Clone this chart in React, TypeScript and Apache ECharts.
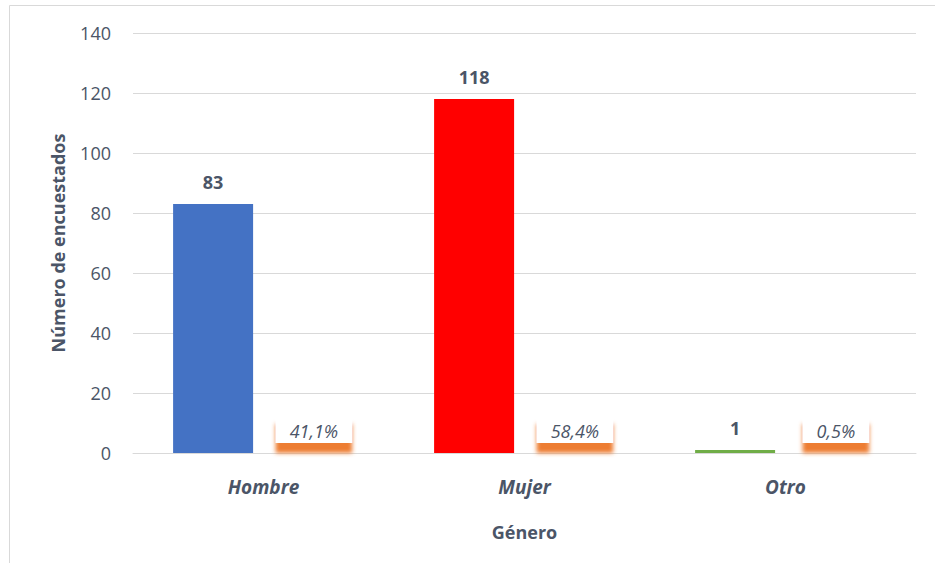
import React, { useEffect, useRef } from "react";
import * as echarts from "echarts";

const categories = ["Hombre", "Mujer", "Otro"];
const counts = [83, 118, 1];
const percents = ["41,1%", "58,4%", "0,5%"];
const barColors = ["#4472C4", "#FF0000", "#70AD47"];
const yTicks = { min: 0, max: 140, interval: 20 };

const textColor = "#4b5567";
const font = "'Open Sans', 'Noto Sans', sans-serif";

export default function App() {
  const ref = useRef<HTMLDivElement>(null);
  useEffect(() => {
    if (!ref.current) return;
    const chart = echarts.init(ref.current, null, { renderer: "svg" });
    chart.setOption({
      animation: false,
      backgroundColor: "#ffffff",
      textStyle: { fontFamily: font },
      graphic: [
        {
          type: "rect",
          shape: { x: 9.5, y: 5.5, width: 960, height: 600 },
          style: { fill: "none", stroke: "#d9d9d9", lineWidth: 1 },
          silent: true,
          z: -10,
        },
      ],
      grid: { left: 133, right: 19, top: 33, bottom: 110 },
      xAxis: {
        type: "category",
        data: categories,
        name: "Género",
        nameLocation: "middle",
        nameGap: 70,
        nameTextStyle: { color: textColor, fontWeight: "bold", fontSize: 18, fontFamily: font },
        axisLine: { lineStyle: { color: "#d9d9d9" } },
        axisTick: { show: false },
        axisLabel: {
          color: textColor,
          fontStyle: "italic",
          fontWeight: "bold",
          fontSize: 19,
          margin: 24,
          fontFamily: font,
        },
      },
      yAxis: {
        type: "value",
        min: yTicks.min,
        max: yTicks.max,
        interval: yTicks.interval,
        name: "Número de encuestados",
        nameLocation: "middle",
        nameGap: 66,
        nameTextStyle: { color: textColor, fontWeight: "bold", fontSize: 18, fontFamily: font },
        axisLine: { show: false },
        axisTick: { show: false },
        splitLine: { lineStyle: { color: "#d9d9d9" } },
        axisLabel: { color: textColor, fontSize: 18, margin: 22, fontFamily: font },
      },
      series: [
        {
          type: "bar",
          barWidth: 80,
          barGap: "26%",
          data: counts.map((v, i) => ({ value: v, itemStyle: { color: barColors[i] } })),
          label: {
            show: true,
            position: "top",
            distance: 13,
            color: textColor,
            fontWeight: "bold",
            fontSize: 18,
            fontFamily: font,
          },
        },
        {
          type: "bar",
          barWidth: 80,
          data: percents.map(() => 0),
          itemStyle: { color: "transparent" },
          label: {
            show: true,
            position: "top",
            distance: 10,
            formatter: (p: any) => percents[p.dataIndex],
            color: textColor,
            fontStyle: "italic",
            fontWeight: 500,
            fontSize: 18,
            fontFamily: font,
            backgroundColor: "#ffffff",
            padding: [8, 14, 3, 14],
            shadowColor: "#ED7D31",
            shadowBlur: 4,
            shadowOffsetY: 10,
          },
        },
      ],
    });
    return () => chart.dispose();
  }, []);
  return <div ref={ref} style={{ width: 935, height: 563, position: "absolute", left: 0, top: 0 }} />;
}
